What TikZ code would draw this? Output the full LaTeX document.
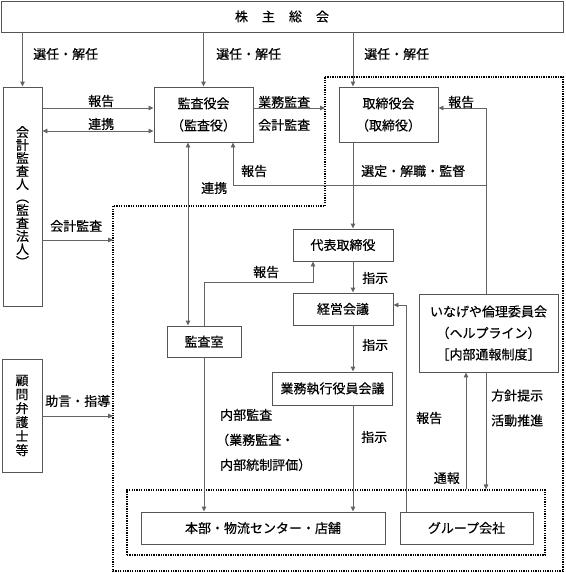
\documentclass[tikz,border=0pt]{standalone}
\usepackage{fontspec}
\setmainfont{Noto Sans CJK JP}[FakeBold=0.4]
\usetikzlibrary{arrows.meta}
\definecolor{ln}{RGB}{100,100,100}
\definecolor{bx}{RGB}{85,85,85}
\newcommand{\jlp}{\makebox[9pt][r]{（}}
\newcommand{\jrp}{\makebox[9pt][l]{）}}
\begin{document}
\begin{tikzpicture}[x=1pt,y=-1pt,
  box/.style={draw=bx,line width=0.9pt,inner sep=0pt,font=\fontsize{13}{22}\selectfont,align=center},
  vbox/.style={box,font=\fontsize{13}{13}\selectfont},
  conn/.style={draw=ln,line width=0.9pt},
  arr/.style={conn,-{Triangle[length=5pt,width=4.5pt]}},
  darr/.style={conn,{Triangle[length=5pt,width=4.5pt]}-{Triangle[length=5pt,width=4.5pt]}},
  lbl/.style={inner sep=0pt,font=\fontsize{13}{25}\selectfont,anchor=west,align=left},
  dotb/.style={draw=black,line width=1.1pt,dash pattern=on 1.3pt off 1.1pt}
]
\useasboundingbox (0,0) rectangle (565,573);

% dotted regions
\draw[dotb] (325,77) -- (563,77) -- (563,571) -- (113,571) -- (113,206) -- (325,206) -- cycle;
\node[dotb,minimum width=418pt,minimum height=65pt,inner sep=0pt] (inner) at (336,522.5) {};

% helper coordinates
\coordinate (xA) at (353,0);
\coordinate (xR) at (486,0);
\coordinate (xT) at (466,0);
\coordinate (xG) at (406,0);
\coordinate (xK) at (188,0);
\coordinate (xH) at (233,0);
\coordinate (xDR) at (313,0);
\coordinate (y108) at (0,108);
\coordinate (y131) at (0,131);
\coordinate (yRep) at (0,185);
\coordinate (yKS) at (0,282);
\coordinate (y305) at (0,305);
\coordinate (y240) at (0,240);
\coordinate (y416) at (0,416);
\coordinate (dN) at (325,108);
\coordinate (dW1) at (113,240);
\coordinate (dW2) at (113,416);

% boxes
\node[box,minimum width=562pt,minimum height=31pt] (top) at (282,16.5) {株\hspace{14pt}主\hspace{14pt}総\hspace{14pt}会};
\node[vbox,minimum width=39pt,minimum height=219pt] (kaikei) at (22.5,196.5) {会\\計\\監\\査\\人\\︵\\監\\査\\法\\人\\︶};
\node[box,minimum width=99pt,minimum height=55pt] (ka) at (203.5,114.5) {監査役会\\\jlp 監査役\jrp};
\node[box,minimum width=99pt,minimum height=55pt] (tr) at (388.5,114.5) {取締役会\\\jlp 取締役\jrp};
\node[box,minimum width=100pt,minimum height=32pt] (dh) at (343,245) {代表取締役};
\node[box,minimum width=100pt,minimum height=32pt] (kei) at (343,309) {経営会議};
\node[box,minimum width=120pt,minimum height=33pt] (gy) at (332.5,388.5) {業務執行役員会議};
\node[box,minimum width=74pt,minimum height=31pt] (ks) at (204,341.5) {監査室};
\node[box,minimum width=139pt,minimum height=78pt,font=\fontsize{13}{21.5}\selectfont] (ing) at (488.5,333) {いなげや倫理委員会\\\jlp ヘルプライン\jrp\\［内部通報制度］};
\node[vbox,minimum width=40pt,minimum height=113pt,font=\fontsize{13}{14}\selectfont] (komon) at (22,415.5) {顧\\問\\弁\\護\\士\\等};
\node[box,minimum width=244pt,minimum height=32pt] (hb) at (263,528) {本部・物流センター・店舗};
\node[box,minimum width=133pt,minimum height=32pt] (gr) at (466.5,528) {グループ会社};

% connectors
\draw[arr] (kaikei.north |- top.south) -- (kaikei.north);
\draw[arr] (ka.north |- top.south) -- (ka.north);
\draw[arr] (xA |- top.south) -- (xA |- tr.north);
\draw[arr] (kaikei.east |- y108) -- (ka.west |- y108);
\draw[darr] (kaikei.east |- y131) -- (ka.west |- y131);
\draw[arr] (ka.east |- y108) -- (dN);
\draw[arr] (ing.north -| xR) -- (xR |- y108) -- (tr.east |- y108);
\draw[arr] (xR |- yRep) -- (xH |- yRep) -- (xH |- ka.south);
\draw[arr] (xA |- tr.south) -- (xA |- dh.north);
\draw[darr] (xK |- ka.south) -- (xK |- ks.north);
\draw[arr] (kaikei.east |- y240) -- (dW1);
\draw[arr] (komon.east |- y416) -- (dW2);
\draw[arr] (ks.north) -- (ks.north |- yKS) -- (xDR |- yKS) -- (xDR |- dh.south);
\draw[arr] (ks.south) -- (ks.south |- hb.north);
\draw[arr] (xA |- dh.south) -- (xA |- kei.north);
\draw[arr] (xA |- kei.south) -- (xA |- gy.north);
\draw[arr] (xA |- gy.south) -- (xA |- hb.north);
\draw[arr] (gr.north -| xG) -- (xG |- y305) -- (kei.east |- y305);
\draw[arr] (xT |- inner.north) -- (xT |- ing.south);
\draw[arr] (xR |- ing.south) -- (xR |- inner.north);

% labels
\node[lbl] (l1) at (33,54) {選任・解任};
\node[lbl] (l2) at (216,54) {選任・解任};
\node[lbl] (l3) at (364,54) {選任・解任};
\node[lbl] (l4) at (88,101) {報告};
\node[lbl] (l5) at (88,124) {連携};
\node[lbl] (l6) at (258,102) {業務監査};
\node[lbl] (l7) at (258,125) {会計監査};
\node[lbl] (l8) at (448,102) {報告};
\node[lbl] (l9) at (241,171) {報告};
\node[lbl] (l10) at (361,171) {選定・解職・監督};
\node[lbl] (l11) at (201,188) {連携};
\node[lbl] (l12) at (50,226) {会計監査};
\node[lbl] (l13) at (45,401) {助言・指導};
\node[lbl] (l14) at (253,272) {報告};
\node[lbl] (l15) at (362,278) {指示};
\node[lbl] (l16) at (362,345) {指示};
\node[lbl] (l17) at (361,437) {指示};
\node[lbl] (l18) at (220,440) {内部監査\\\jlp 業務監査・\\内部統制評価\jrp};
\node[lbl] (l19) at (416,418) {報告};
\node[lbl,anchor=east] (l20) at (460,478) {通報};
\node[lbl] (l21) at (491,408) {方針提示\\活動推進};
\end{tikzpicture}
\end{document}
